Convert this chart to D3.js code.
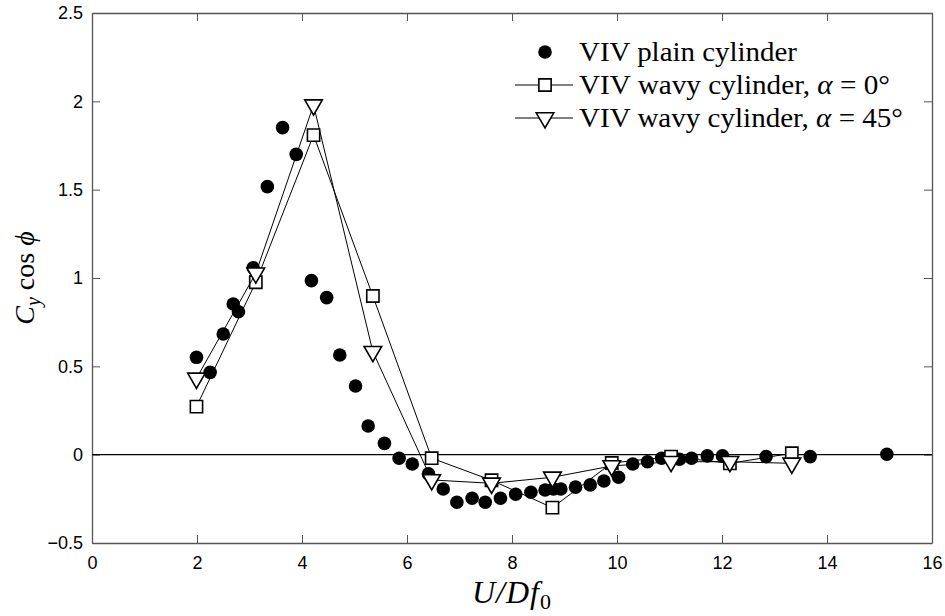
<!DOCTYPE html>
<html>
<head>
<meta charset="utf-8">
<script src="https://cdn.jsdelivr.net/npm/d3@7"></script>
<style>
  body { margin: 0; background: #fff; }
  .tick text { font-family: "Liberation Sans", Arial, sans-serif; font-size: 18px; fill: #000; }
  .lab { font-family: "Liberation Serif", "Times New Roman", serif; fill: #000; }
</style>
</head>
<body>
<div id="chart"></div>
<script>
// plain cylinder VIV (filled dots)
var plainX = [1.99, 2.25, 2.50, 2.69, 2.79, 3.07, 3.34, 3.63, 3.89, 4.18, 4.47, 4.72, 5.02, 5.26,
  5.57, 5.85, 6.10, 6.41, 6.69, 6.95, 7.24, 7.49, 7.78, 8.07, 8.36, 8.63, 8.79, 8.93, 9.21, 9.49,
  9.75, 10.03, 10.30, 10.58, 10.85, 11.19, 11.42, 11.72, 12.01, 12.84, 13.68, 15.14];
var plainY = [0.551, 0.466, 0.683, 0.853, 0.809, 1.058, 1.517, 1.851, 1.700, 0.985, 0.889, 0.564, 0.389, 0.162,
  0.064, -0.020, -0.053, -0.109, -0.194, -0.269, -0.247, -0.269, -0.247, -0.224, -0.213, -0.200, -0.194, -0.194, -0.184, -0.171,
  -0.149, -0.128, -0.053, -0.040, -0.020, -0.026, -0.020, -0.007, -0.007, -0.011, -0.011, 0.002];

// wavy cylinders share the same reduced velocities
var wavyX = [1.99, 3.12, 4.22, 5.35, 6.47, 7.61, 8.77, 9.90, 11.03, 12.15, 13.33];
var wavy0Y = [0.272, 0.976, 1.809, 0.898, -0.020, -0.145, -0.300, -0.047, -0.011, -0.049, 0.008];
var wavy45Y = [0.432, 1.027, 1.979, 0.583, -0.143, -0.162, -0.128, -0.064, -0.040, -0.040, -0.049];

var xTicks = [0, 2, 4, 6, 8, 10, 12, 14, 16];
var yTicks = [-0.5, 0, 0.5, 1, 1.5, 2, 2.5];

var width = 945, height = 616;
var margin = {top: 13, right: 13, bottom: 73, left: 92};

var svg = d3.select('#chart').append('svg')
  .attr('width', width)
  .attr('height', height);

var x_scale = d3.scaleLinear().domain([0, 16]).range([margin.left, width - margin.right]);
var y_scale = d3.scaleLinear().domain([-0.5, 2.5]).range([height - margin.bottom, margin.top]);

var boxColor = "#555";

// axes, ticks pointing in
function styleAxis(g) {
  g.select(".domain").attr("stroke", boxColor).attr("stroke-width", 1.3);
  g.selectAll(".tick line").attr("stroke", boxColor).attr("stroke-width", 1);
}
svg.append("g")
  .attr("transform", "translate(0," + y_scale(-0.5) + ")")
  .call(d3.axisBottom(x_scale).tickValues(xTicks).tickSizeInner(-8).tickSizeOuter(0).tickPadding(13).tickFormat(d3.format("d")))
  .call(styleAxis);
svg.append("g")
  .attr("transform", "translate(0," + y_scale(2.5) + ")")
  .call(d3.axisTop(x_scale).tickValues(xTicks).tickSizeInner(-8).tickSizeOuter(0).tickFormat(""))
  .call(styleAxis);
svg.append("g")
  .attr("transform", "translate(" + x_scale(0) + ",0)")
  .call(d3.axisLeft(y_scale).tickValues(yTicks).tickSizeInner(-8).tickSizeOuter(0).tickPadding(9).tickFormat(d3.format("")))
  .call(styleAxis);
svg.append("g")
  .attr("transform", "translate(" + x_scale(16) + ",0)")
  .call(d3.axisRight(y_scale).tickValues(yTicks).tickSizeInner(-8).tickSizeOuter(0).tickFormat(""))
  .call(styleAxis);

// zero line
svg.append("line")
  .attr("x1", x_scale(0)).attr("x2", x_scale(16))
  .attr("y1", y_scale(0)).attr("y2", y_scale(0))
  .attr("stroke", "#000").attr("stroke-width", 1.2);

// markers
var downTri = {
  draw: function(ctx, size) {
    var w = 8.8;
    ctx.moveTo(-w, -5.2);
    ctx.lineTo(w, -5.2);
    ctx.lineTo(0, 10);
    ctx.closePath();
  }
};
var squarePath = d3.symbol().type(d3.symbolSquare).size(150)();
var triPath = d3.symbol().type(downTri)();

var plain = plainX.map(function(v, i) { return {x: v, y: plainY[i]}; });
var w0 = wavyX.map(function(v, i) { return {x: v, y: wavy0Y[i]}; });
var w45 = wavyX.map(function(v, i) { return {x: v, y: wavy45Y[i]}; });

svg.selectAll(".dot").data(plain).enter().append("circle")
  .attr("class", "dot")
  .attr("cx", function(d) { return x_scale(d.x); })
  .attr("cy", function(d) { return y_scale(d.y); })
  .attr("r", 6.8)
  .style("fill", "#000");

var line = d3.line()
  .x(function(d) { return x_scale(d.x); })
  .y(function(d) { return y_scale(d.y); });

function drawSeries(data, path, cls) {
  svg.append("path")
    .datum(data)
    .attr("d", line)
    .attr("fill", "none")
    .attr("stroke", "#000")
    .attr("stroke-width", 1);
  svg.selectAll("." + cls).data(data).enter().append("path")
    .attr("class", cls)
    .attr("d", path)
    .attr("transform", function(d) { return "translate(" + x_scale(d.x) + "," + y_scale(d.y) + ")"; })
    .style("fill", "#fff")
    .style("stroke", "#000")
    .style("stroke-width", 1.6);
}
drawSeries(w0, squarePath, "sq");
drawSeries(w45, triPath, "tri");

// legend
var legendX = 545, legendY = [52, 85, 118];
var lg = svg.append("g").attr("class", "legend");
lg.append("circle").attr("cx", legendX).attr("cy", legendY[0]).attr("r", 6.8).style("fill", "#000");
[squarePath, triPath].forEach(function(p, i) {
  var yy = legendY[i + 1];
  lg.append("line").attr("x1", 515).attr("x2", 573).attr("y1", yy).attr("y2", yy)
    .attr("stroke", "#000").attr("stroke-width", 1);
  lg.append("path").attr("d", p)
    .attr("transform", "translate(" + legendX + "," + yy + ")")
    .style("fill", "#fff").style("stroke", "#000").style("stroke-width", 1.6);
});

var legendText = [
  [["VIV plain cylinder", false]],
  [["VIV wavy cylinder, ", false], ["\u03B1", true], [" = 0\u00B0", false]],
  [["VIV wavy cylinder, ", false], ["\u03B1", true], [" = 45\u00B0", false]]
];
var legendWidth = [218, 311, 324];
legendText.forEach(function(parts, i) {
  var t = lg.append("text").attr("class", "lab")
    .attr("x", 579).attr("y", legendY[i]).attr("dy", "0.34em")
    .style("font-size", "27px")
    .attr("textLength", legendWidth[i])
    .attr("lengthAdjust", "spacingAndGlyphs");
  parts.forEach(function(p) {
    t.append("tspan").text(p[0]).style("font-style", p[1] ? "italic" : "normal");
  });
});

// axis labels
var xl = svg.append("text").attr("class", "lab")
  .attr("x", x_scale(8)).attr("y", 603)
  .attr("text-anchor", "middle")
  .style("font-size", "32px")
  .style("letter-spacing", "1px");
xl.append("tspan").text("U/Df").style("font-style", "italic");
xl.append("tspan").text("0").attr("dy", 6).style("font-size", "22px");

var yl = svg.append("text").attr("class", "lab")
  .attr("transform", "translate(34," + y_scale(1) + ")rotate(-90)")
  .attr("text-anchor", "middle")
  .style("font-size", "28px");
yl.append("tspan").text("C").style("font-style", "italic");
yl.append("tspan").text("y").attr("dy", 6).style("font-style", "italic").style("font-size", "20px");
yl.append("tspan").text(" cos ").attr("dy", -6);
yl.append("tspan").text("\u03D5").style("font-style", "italic");
</script>
</body>
</html>
